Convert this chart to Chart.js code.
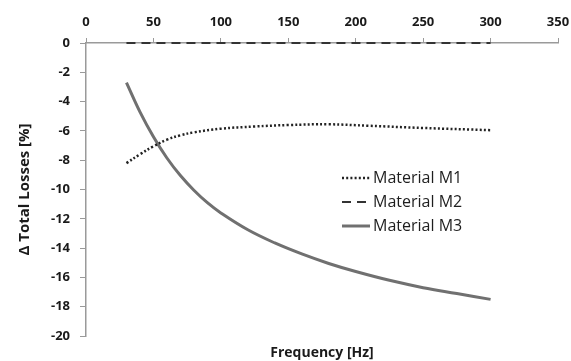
<!DOCTYPE html>
<html>
<head>
<meta charset="utf-8">
<script src="https://cdn.jsdelivr.net/npm/chart.js@4/dist/chart.umd.min.js"></script>
<style>
  html, body { margin: 0; padding: 0; background: #fff; }
  #wrap { width: 571px; height: 361px; position: relative; }
</style>
</head>
<body>
<div id="wrap"><canvas id="lossChart"></canvas></div>
<script>
// frequency [Hz] and loss change [%]
const freqM1 = [30, 40, 50, 60, 70, 80, 100, 125, 150, 180, 210, 250, 300];
const lossM1 = [-8.2, -7.6, -7.05, -6.6, -6.3, -6.1, -5.85, -5.7, -5.6, -5.55, -5.65, -5.8, -5.95];

const freqM2 = [30, 300];
const lossM2 = [0, 0];

const freqM3 = [30, 40, 50, 60, 70, 80, 90, 100, 120, 140, 160, 180, 200, 225, 250, 275, 300];
const lossM3 = [-2.7, -4.7, -6.4, -7.85, -9.05, -10.05, -10.9, -11.6, -12.75, -13.65, -14.4, -15.05, -15.6, -16.2, -16.7, -17.1, -17.5];

const seriesNames = ["Material M1", "Material M2", "Material M3"];
const xTitle = "Frequency [Hz]";
const yTitle = "\u0394 Total Losses [%]";

const toPoints = (xs, ys) => xs.map((x, i) => ({ x: x, y: ys[i] }));

const axisGray = "#9a9a9a";
const fontFam = "'Open Sans', 'Liberation Sans', sans-serif";
const tickFont = { family: fontFam, size: 13, weight: "bold" };

// legend drawn inside the plot, like the original
const insideLegend = {
  id: "insideLegend",
  afterDraw(chart) {
    const ctx = chart.ctx;
    const x0 = 342, x1 = 370, textX = 373;
    const rows = [178, 202, 226];
    ctx.save();
    chart.data.datasets.forEach((ds, i) => {
      const y = rows[i];
      ctx.beginPath();
      ctx.strokeStyle = ds.borderColor;
      ctx.lineWidth = ds.borderWidth;
      ctx.setLineDash(ds.borderDash || []);
      ctx.moveTo(x0, y);
      ctx.lineTo(x1, y);
      ctx.stroke();
      ctx.setLineDash([]);
      ctx.fillStyle = "#1e1e1e";
      ctx.font = "16px " + fontFam;
      ctx.textBaseline = "middle";
      ctx.textAlign = "left";
      ctx.fillText(ds.label, textX, y);
    });
    ctx.restore();
  }
};

new Chart(document.getElementById("lossChart"), {
  type: "line",
  data: {
    datasets: [
      {
        label: seriesNames[0],
        data: toPoints(freqM1, lossM1),
        borderColor: "#222",
        borderWidth: 2.5,
        borderDash: [2, 2.2],
        pointRadius: 0,
        tension: 0.4,
        clip: false
      },
      {
        label: seriesNames[1],
        data: toPoints(freqM2, lossM2),
        borderColor: "#333",
        borderWidth: 2,
        borderDash: [9, 6],
        pointRadius: 0,
        clip: false
      },
      {
        label: seriesNames[2],
        data: toPoints(freqM3, lossM3),
        borderColor: "#707070",
        borderWidth: 3,
        pointRadius: 0,
        tension: 0.4,
        clip: false
      }
    ]
  },
  options: {
    responsive: true,
    maintainAspectRatio: false,
    animation: false,
    layout: { padding: { left: 0, right: 13, top: 0, bottom: 0 } },
    plugins: {
      legend: { display: false },
      tooltip: { enabled: false }
    },
    scales: {
      x: {
        type: "linear",
        position: "top",
        min: 0,
        max: 350,
        // JP/CN-style note: ignore the extra room Chart.js keeps for the last label
        afterFit: (s) => { s.height = 43; s.paddingLeft = 0; s.paddingRight = 0; },
        ticks: { stepSize: 50, color: "#1a1a1a", font: tickFont, padding: 8, maxRotation: 0 },
        grid: { drawOnChartArea: false, drawTicks: true, tickLength: 5, color: axisGray },
        border: { color: axisGray, width: 1.5 }
      },
      x2: {
        type: "linear",
        position: "bottom",
        min: 0,
        max: 350,
        afterFit: (s) => { s.height = 25; s.paddingLeft = 0; s.paddingRight = 0; },
        ticks: { display: false },
        grid: { display: false },
        border: { display: false },
        title: {
          display: true,
          text: xTitle,
          color: "#1a1a1a",
          font: { family: fontFam, size: 14, weight: "bold" },
          padding: { top: 4, bottom: 0 }
        }
      },
      y: {
        type: "linear",
        min: -20,
        max: 0,
        afterFit: (s) => { s.width = 86; },
        ticks: { stepSize: 2, color: "#1a1a1a", font: tickFont, padding: 10 },
        grid: { drawOnChartArea: false, drawTicks: true, tickLength: 6, color: axisGray },
        border: { color: axisGray, width: 1.5 },
        title: {
          display: true,
          text: yTitle,
          color: "#1a1a1a",
          font: { family: fontFam, size: 15, weight: "bold" },
          padding: { top: 16, bottom: 0 }
        }
      }
    }
  },
  plugins: [insideLegend]
});
</script>
</body>
</html>
